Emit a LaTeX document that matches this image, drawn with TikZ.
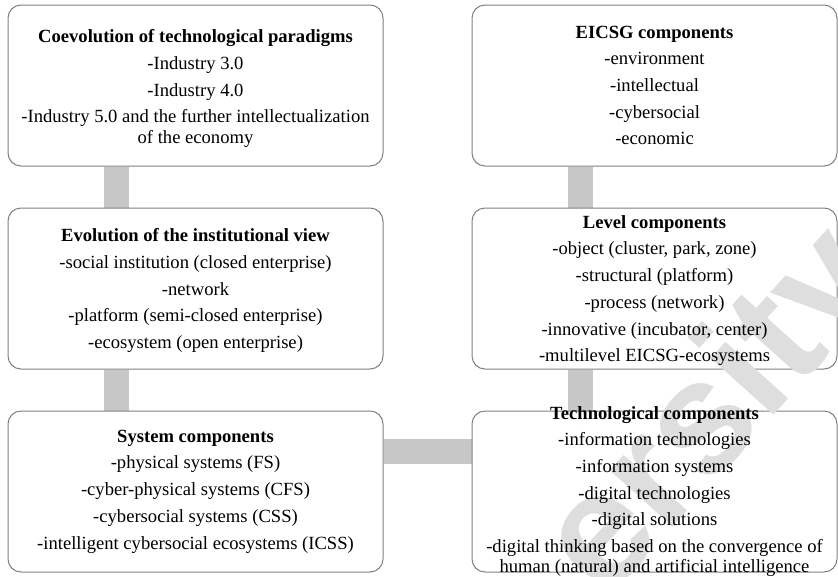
\documentclass[tikz,border=0pt]{standalone}
\usepackage{fontspec}
\setmainfont{Liberation Serif}
\newfontfamily\wmfont{Liberation Sans}
\usetikzlibrary{positioning,backgrounds}

\begin{document}
\begin{tikzpicture}[
            x = 1pt, y = -1pt, % pixel-like units, y going down
            node distance = 41pt and 88pt, % gap between boxes
            semithick
        ]

        \tikzstyle{box}=[
            draw = black!50,
            line width = 1pt,
            fill = white,
            rounded corners = 13pt,
            minimum height = 161pt,
            inner sep = 0pt
        ]
        \tikzstyle{lbox}=[box, minimum width = 375pt]
        \tikzstyle{rbox}=[box, minimum width = 365pt]
        \tikzstyle{txt}=[
            align = center,
            inner sep = 0pt,
            font = \fontsize{18.6}{20.3}\selectfont
        ]
        \tikzstyle{bar}=[draw = black!22, line width = 25pt]
        \tikzstyle{wmark}=[
            text = black!13,
            inner sep = 0pt,
            font = \wmfont\bfseries\fontsize{160}{160}\selectfont
        ]

        \useasboundingbox (0,0) rectangle (838,576);

        \node[lbox] (coevo) at (195.5,85.5) {};
        \node[rbox] (eicsg) [right=of coevo] {};
        \node[lbox] (instview) [below=of coevo] {};
        \node[rbox] (levels) [below=of eicsg] {};
        \node[lbox] (syscomp) [below=of instview] {};
        \node[rbox] (techcomp) [below=of levels] {};

        \begin{scope}[on background layer]
            \draw[bar] ([xshift=109pt]coevo.south west) -- ([xshift=109pt]instview.north west);
            \draw[bar] ([xshift=109pt]instview.south west) -- ([xshift=109pt]syscomp.north west);
            \draw[bar] ([xshift=109pt]eicsg.south west) -- ([xshift=109pt]levels.north west);
            \draw[bar] ([xshift=109pt]levels.south west) -- ([xshift=109pt]techcomp.north west);
            \draw[bar] ([yshift=-41pt]syscomp.north east) -- ([yshift=-41pt]techcomp.north west);
        \end{scope}

        % watermark, cut off by the page edge
        \begin{scope}
            \clip (0,0) rectangle (838,576);
            \node[wmark, rotate=48, anchor=base west] (wm) at (606,602) {ersity};
        \end{scope}

        \node[txt, yshift=-3pt] (coevo-txt) at (coevo) {\textbf{Coevolution of technological paradigms}\\[6.4pt]
            -Industry 3.0\\[6.4pt]
            -Industry 4.0\\[6.4pt]
            -Industry 5.0 and the further intellectualization\\
            of the economy};
        \node[txt] (eicsg-txt) at (eicsg) {\textbf{EICSG components}\\[6.4pt]
            -environment\\[6.4pt]
            -intellectual\\[6.4pt]
            -cybersocial\\[6.4pt]
            -economic};
        \node[txt, yshift=-2pt] (instview-txt) at (instview) {\textbf{Evolution of the institutional view}\\[6.4pt]
            -social institution (closed enterprise)\\[6.4pt]
            -network\\[6.4pt]
            -platform (semi-closed enterprise)\\[6.4pt]
            -ecosystem (open enterprise)};
        \node[txt, yshift=-2pt] (levels-txt) at (levels) {\textbf{Level components}\\[6.4pt]
            -object (cluster, park, zone)\\[6.4pt]
            -structural (platform)\\[6.4pt]
            -process (network)\\[6.4pt]
            -innovative (incubator, center)\\[6.4pt]
            -multilevel EICSG-ecosystems};
        \node[txt] (syscomp-txt) at (syscomp) {\textbf{System components}\\[6.4pt]
            -physical systems (FS)\\[6.4pt]
            -cyber-physical systems (CFS)\\[6.4pt]
            -cybersocial systems (CSS)\\[6.4pt]
            -intelligent cybersocial ecosystems (ICSS)};
        \node[txt] (techcomp-txt) at (techcomp) {\textbf{Technological components}\\[6.4pt]
            -information technologies\\[6.4pt]
            -information systems\\[6.4pt]
            -digital technologies\\[6.4pt]
            -digital solutions\\[6.4pt]
            -digital thinking based on the convergence of\\
            human (natural) and artificial intelligence};

    \end{tikzpicture}
\end{document}
